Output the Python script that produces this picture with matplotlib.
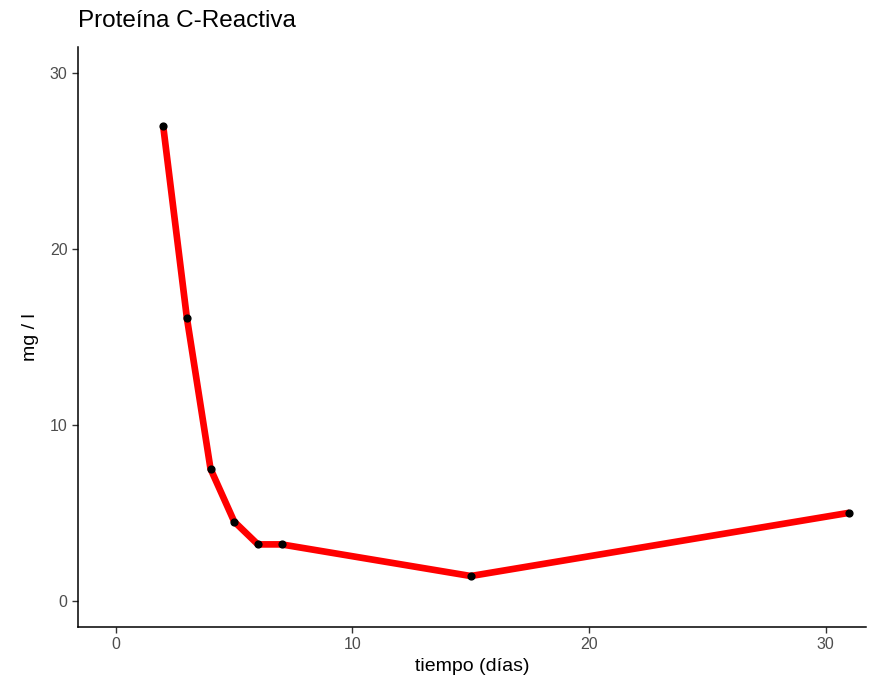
import numpy as np
import matplotlib.pyplot as plt

plt.rcParams['font.family'] = ['Liberation Sans', 'DejaVu Sans']

# datos
dias = [2, 3, 4, 5, 6, 7, 15, 31]
pcr = [27.0, 16.1, 7.5, 4.5, 3.2, 3.2, 1.4, 5.0]
xticks = [0, 10, 20, 30]
yticks = [0, 10, 20, 30]


def main():
    fig = plt.figure(figsize=(8.69, 6.78), dpi=100)
    ax = fig.add_axes([78 / 869, 51 / 678, 788 / 869, 580 / 678])

    ax.plot(dias, pcr, color='#FF0000', linewidth=4.8, solid_capstyle='butt', zorder=2)
    ax.scatter(dias, pcr, color='black', s=24, zorder=3)

    ax.set_xlim(-1.6, 31.7)
    ax.set_ylim(-1.5, 31.5)
    ax.set_xticks(xticks)
    ax.set_yticks(yticks)

    for s in ['top', 'right']:
        ax.spines[s].set_visible(False)
    for s in ['left', 'bottom']:
        ax.spines[s].set_linewidth(1.1)
        ax.spines[s].set_color('black')
    ax.tick_params(colors='#333333', labelcolor='#4D4D4D', labelsize=11.5, length=4, width=1)

    ax.set_xlabel('tiempo (días)', fontsize=14, labelpad=4)
    ax.set_ylabel('mg / l', fontsize=14, labelpad=8)
    fig.text(78 / 869, 1 - 21 / 678, 'Proteína C-Reactiva', fontsize=17.5, va='center', ha='left')

    fig.savefig('out.png', dpi=100)


if __name__ == "__main__":
    main()
